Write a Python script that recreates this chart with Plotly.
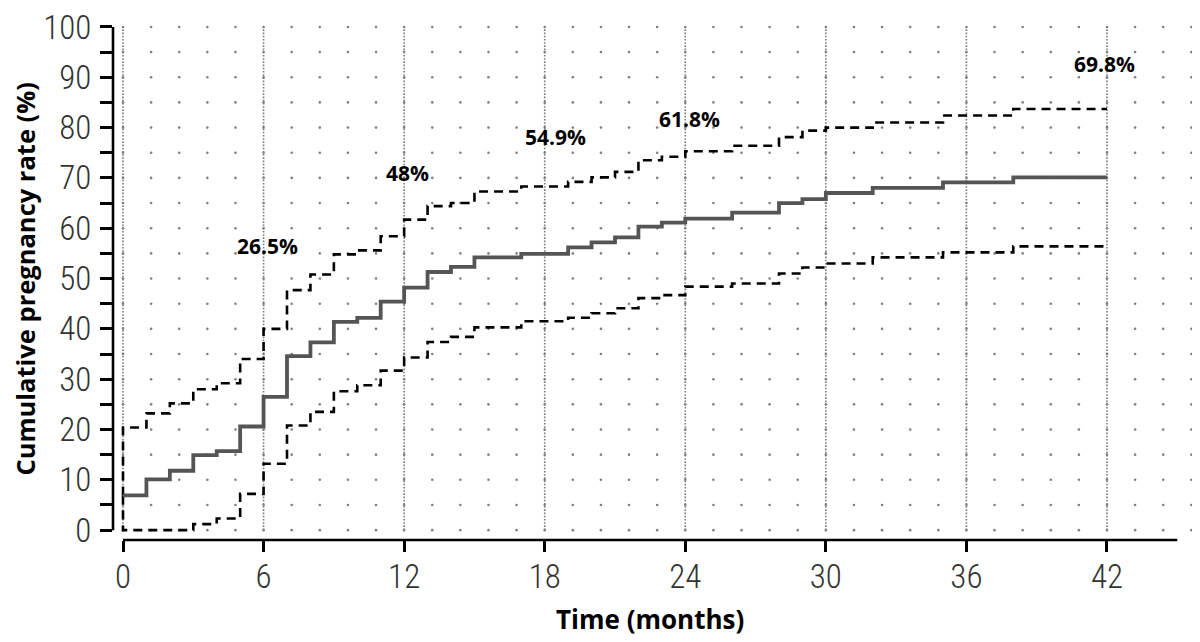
import numpy as np
import plotly.graph_objects as go

# ---- data ----
months = [0, 1, 2, 3, 4, 5, 6, 7, 8, 9, 10, 11, 12, 13, 14, 15, 17, 19, 20, 21,
          22, 23, 24, 26, 28, 29, 30, 32, 35, 38, 42]
rate = [6.9, 10.1, 11.8, 14.9, 15.7, 20.6, 26.5, 34.6, 37.3, 41.4, 42.2, 45.4, 48.2,
        51.3, 52.3, 54.2, 54.9, 56.2, 57.2, 58.2, 60.3, 61.1, 61.9, 63.1, 65.0, 65.8,
        67.0, 68.0, 69.1, 70.1, 70.1]
upper_ci = [20.4, 23.2, 25.2, 28.0, 29.2, 34.0, 40.0, 47.7, 50.8, 54.8, 55.6, 58.4, 61.7,
            64.4, 65.0, 67.3, 68.3, 69.2, 70.1, 71.2, 73.5, 74.2, 75.3, 76.4, 78.1, 79.4,
            80.0, 81.0, 82.4, 83.7, 83.7]
lower_ci = [0.0, 0.0, 0.0, 1.2, 2.3, 7.2, 13.2, 20.8, 23.5, 27.6, 28.8, 31.7, 34.3,
            37.4, 38.4, 40.3, 41.5, 42.2, 43.1, 44.1, 46.1, 46.7, 48.4, 49.0, 51.0, 52.2,
            53.0, 54.2, 55.2, 56.4, 56.4]

label_text = ["26.5%", "48%", "54.9%", "61.8%", "69.8%"]
label_x = [6.17, 12.16, 18.48, 24.2, 41.9]
label_y = [55.3, 69.8, 76.9, 80.6, 91.5]

x_ticks = [0, 6, 12, 18, 24, 30, 36, 42]
y_ticks = [0, 10, 20, 30, 40, 50, 60, 70, 80, 90, 100]

# dotted background grid positions (style, not data)
dot_x = [round(1.2 * i, 2) for i in range(39)]
dot_y = [5 * j for j in range(21)]

fig = go.Figure()

gx, gy = np.meshgrid(dot_x, dot_y)
fig.add_trace(go.Scatter(x=gx.ravel(), y=gy.ravel(), mode="markers",
                         marker=dict(size=2.6, color="#808080"),
                         hoverinfo="skip", showlegend=False))

start = rate[0]
fig.add_trace(go.Scatter(x=[0] + months, y=[start] + upper_ci, mode="lines",
                         line=dict(shape="hv", color="black", width=2.6, dash="9px,6px"),
                         showlegend=False))
fig.add_trace(go.Scatter(x=[0] + months, y=[start] + lower_ci, mode="lines",
                         line=dict(shape="hv", color="black", width=2.6, dash="9px,6px"),
                         showlegend=False))
fig.add_trace(go.Scatter(x=months, y=rate, mode="lines",
                         line=dict(shape="hv", color="#555555", width=3.8),
                         showlegend=False))

shapes = []
for xv in x_ticks:
    shapes.append(dict(type="line", xref="x", yref="y", x0=xv, x1=xv, y0=0, y1=100,
                       line=dict(color="#7a7a7a", width=1.6, dash="1.6px,1.6px"),
                       layer="below"))
# axis lines
shapes.append(dict(type="line", xref="paper", yref="y", x0=0, x1=0, y0=0, y1=100,
                   line=dict(color="black", width=2.6)))
shapes.append(dict(type="line", xref="x", yref="paper", x0=0, x1=45, y0=0, y1=0,
                   line=dict(color="black", width=2.6)))

# page body has an 8px margin: figure origin sits at screen (8, 8)
OFF = 8
W, H = 1200 - OFF, 642 - OFF
L, T = 113 - OFF, 14 - OFF
R, B = 0, H - (540 - OFF)
pw, ph = W - L - R, H - T - B


def px_to_paper(sx, sy):
    fx, fy = sx - OFF, sy - OFF
    return (fx - L) / pw, (H - B - fy) / ph


annotations = []
for t, xv, yv in zip(label_text, label_x, label_y):
    annotations.append(dict(x=xv, y=yv, xref="x", yref="y", text=t, showarrow=False,
                            font=dict(family="Open Sans", size=21, color="black",
                                      weight="bold"),
                            xanchor="center", yanchor="middle", yshift=6))

tx, ty = px_to_paper(650, 620)
annotations.append(dict(x=tx, y=ty, xref="paper", yref="paper", text="Time (months)",
                        showarrow=False, xanchor="center", yanchor="middle",
                        font=dict(family="Open Sans", size=26, color="black", weight="bold")))
yx, yy = px_to_paper(25, 276)
annotations.append(dict(x=yx, y=yy, xref="paper", yref="paper",
                        text="Cumulative pregnancy rate (%)", textangle=-90,
                        showarrow=False, xanchor="center", yanchor="middle",
                        font=dict(family="Open Sans", size=25.5, color="black",
                                  weight="bold")))

tick_font = dict(family="Roboto Condensed, Liberation Sans Narrow, Liberation Sans",
                 size=33, color="#333333", weight=300)

fig.update_layout(
    width=W, height=H,
    margin=dict(l=L, r=R, t=T, b=B, pad=0),
    paper_bgcolor="white", plot_bgcolor="white",
    shapes=shapes,
    annotations=annotations,
    xaxis=dict(range=[-0.427, 45.97], tickvals=x_ticks, ticks="outside", ticklen=11,
               tickwidth=2.6, tickcolor="black", showgrid=False, zeroline=False,
               showline=False, tickfont=tick_font, ticklabelstandoff=-4,
               ticklabeloverflow="allow"),
    yaxis=dict(range=[-1.96, 101.18], tickvals=y_ticks, ticks="outside", ticklen=12,
               tickwidth=2.6, tickcolor="black", showgrid=False, zeroline=False,
               showline=False, tickfont=tick_font, ticklabelstandoff=2,
               ticklabeloverflow="allow",
               minor=dict(tickvals=list(range(5, 100, 10)), ticks="outside", ticklen=12,
                          tickwidth=2.6, tickcolor="black", showgrid=False)),
)

fig.write_html("out.html")
